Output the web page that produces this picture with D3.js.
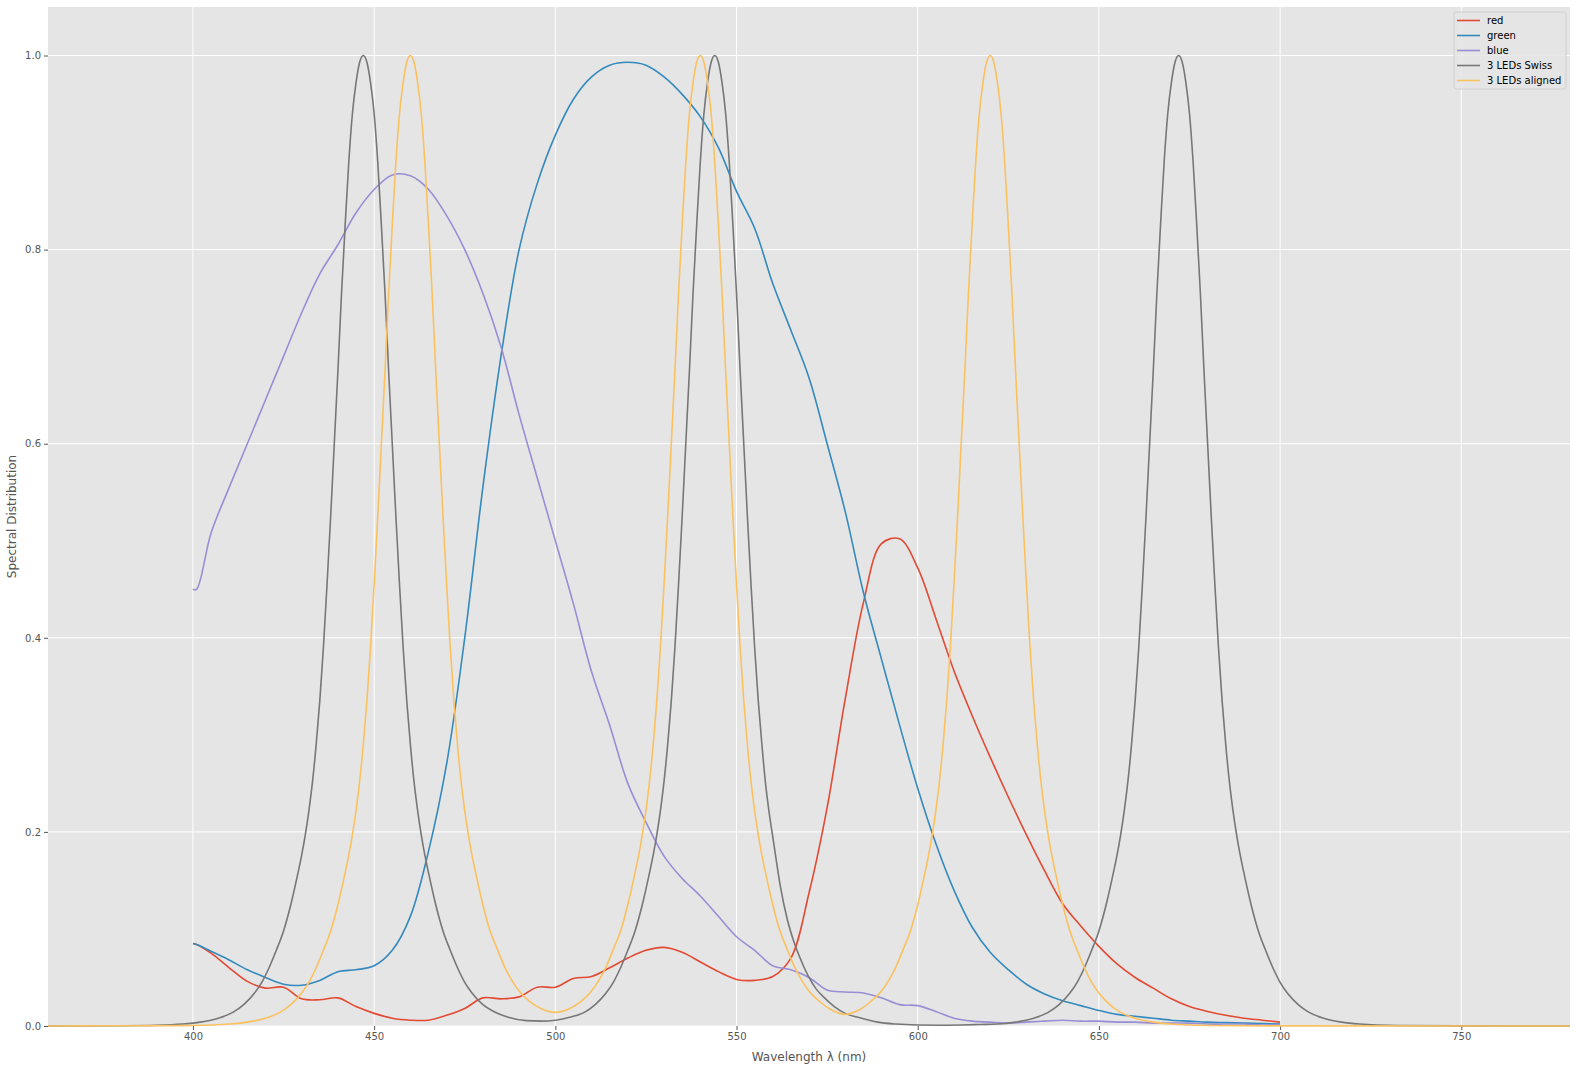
<!DOCTYPE html>
<html>
<head>
<meta charset="utf-8">
<script src="https://cdn.jsdelivr.net/npm/d3@7"></script>
<style>
  html, body { margin: 0; padding: 0; background: #ffffff; }
  svg { display: block; }
  text { font-family: "DejaVu Sans", sans-serif; }
</style>
</head>
<body>
<svg id="chart" width="1576" height="1072"></svg>
<script>
// ---------------- DATA ----------------
const wavelengths = [400,401,405,410,415,420,425,430,435,440,445,450,455,460,465,470,475,480,485,490,495,500,505,510,515,520,525,530,535,540,545,550,555,560,565,570,575,580,585,590,595,600,605,610,615,620,625,630,635,640,645,650,655,660,665,670,675,680,685,690,695,700];

const redValues = [0.085,0.084,0.075,0.06,0.046,0.039,0.04,0.028,0.027,0.029,0.02,0.013,0.008,0.006,0.006,0.011,0.018,0.029,0.028,0.03,0.04,0.04,0.049,0.051,0.06,0.07,0.078,0.081,0.076,0.066,0.056,0.048,0.047,0.051,0.07,0.137,0.225,0.337,0.436,0.497,0.502,0.472,0.42,0.366,0.32,0.277,0.236,0.197,0.16,0.126,0.103,0.082,0.064,0.05,0.039,0.028,0.02,0.015,0.011,0.008,0.006,0.004];

const greenValues = [0.085,0.084,0.077,0.068,0.058,0.05,0.043,0.042,0.047,0.056,0.058,0.062,0.078,0.113,0.18,0.27,0.4,0.555,0.69,0.8,0.868,0.918,0.955,0.978,0.99,0.993,0.99,0.978,0.96,0.937,0.905,0.86,0.822,0.765,0.717,0.668,0.6,0.53,0.447,0.378,0.31,0.245,0.188,0.14,0.102,0.076,0.058,0.043,0.033,0.026,0.021,0.016,0.012,0.01,0.008,0.006,0.005,0.004,0.0035,0.003,0.0025,0.002];

const blueValues = [0.45,0.45,0.508,0.555,0.6,0.645,0.69,0.735,0.775,0.805,0.838,0.862,0.877,0.876,0.862,0.835,0.8,0.755,0.7,0.63,0.565,0.5,0.435,0.365,0.31,0.25,0.21,0.175,0.152,0.134,0.113,0.092,0.078,0.062,0.058,0.05,0.037,0.035,0.034,0.029,0.022,0.021,0.015,0.008,0.005,0.004,0.003,0.004,0.005,0.006,0.005,0.005,0.004,0.004,0.003,0.003,0.003,0.002,0.002,0.002,0.001,0.001];

const ledsSwiss = [[360,0],[380,0.0003],[390,0.0008],[397,0.002],[402,0.004],[407,0.008],[411,0.014],[414,0.022],[417,0.034],[419,0.045],[421,0.06],[423,0.078],[425,0.098],[427,0.125],[429,0.158],[430,0.176],[431,0.197],[432,0.222],[433,0.252],[434,0.29],[435,0.335],[436,0.39],[437,0.455],[438,0.525],[439,0.6],[440,0.675],[441,0.755],[442,0.825],[443,0.89],[444,0.94],[445,0.972],[446,0.993],[447,1],[448,0.993],[449,0.972],[450,0.94],[451,0.89],[452,0.825],[453,0.755],[454,0.675],[455,0.6],[456,0.525],[457,0.455],[458,0.39],[459,0.335],[460,0.29],[461,0.252],[462,0.222],[463,0.197],[464,0.176],[465,0.158],[467,0.125],[469,0.098],[471,0.078],[473,0.06],[475,0.045],[477,0.034],[480,0.022],[483,0.015],[487,0.009],[492,0.0055],[496,0.005],[500,0.006],[504,0.009],[508,0.014],[511,0.022],[514,0.034],[516,0.045],[518,0.06],[520,0.078],[522,0.098],[524,0.125],[526,0.158],[527,0.176],[528,0.197],[529,0.222],[530,0.252],[531,0.29],[532,0.335],[533,0.39],[534,0.455],[535,0.525],[536,0.6],[537,0.675],[538,0.755],[539,0.825],[540,0.89],[541,0.94],[542,0.972],[543,0.993],[544,1],[545,0.993],[546,0.972],[547,0.94],[548,0.89],[549,0.825],[550,0.755],[551,0.675],[552,0.6],[553,0.525],[554,0.455],[555,0.39],[556,0.335],[557,0.29],[558,0.25],[559,0.22],[560,0.195],[561,0.17],[562,0.146],[564,0.11],[566,0.085],[568,0.066],[570,0.05],[572,0.038],[574,0.03],[577,0.02],[580,0.013],[584,0.0085],[589,0.004],[594,0.002],[600,0.001],[606,0.0008],[612,0.001],[617,0.0015],[622,0.002],[627,0.004],[632,0.008],[636,0.014],[639,0.022],[642,0.034],[644,0.045],[646,0.06],[648,0.078],[650,0.098],[652,0.125],[654,0.158],[655,0.176],[656,0.197],[657,0.222],[658,0.252],[659,0.29],[660,0.335],[661,0.39],[662,0.455],[663,0.525],[664,0.6],[665,0.675],[666,0.755],[667,0.825],[668,0.89],[669,0.94],[670,0.972],[671,0.993],[672,1],[673,0.993],[674,0.972],[675,0.94],[676,0.89],[677,0.825],[678,0.755],[679,0.675],[680,0.6],[681,0.525],[682,0.455],[683,0.39],[684,0.335],[685,0.29],[686,0.252],[687,0.222],[688,0.197],[689,0.176],[690,0.158],[692,0.125],[694,0.098],[696,0.078],[698,0.06],[700,0.045],[702,0.034],[705,0.022],[708,0.014],[712,0.008],[717,0.004],[722,0.002],[732,0.0005],[750,0.0001],[780,0]];

const ledsAligned = [[360,0],[380,0.0002],[400,0.0005],[410,0.002],[415,0.004],[420,0.008],[424,0.014],[427,0.022],[430,0.034],[432,0.045],[434,0.06],[436,0.078],[438,0.098],[440,0.125],[442,0.158],[443,0.176],[444,0.197],[445,0.222],[446,0.252],[447,0.29],[448,0.335],[449,0.39],[450,0.455],[451,0.525],[452,0.6],[453,0.675],[454,0.755],[455,0.825],[456,0.89],[457,0.94],[458,0.972],[459,0.993],[460,1],[461,0.993],[462,0.972],[463,0.94],[464,0.89],[465,0.825],[466,0.755],[467,0.675],[468,0.6],[469,0.525],[470,0.455],[471,0.39],[472,0.335],[473,0.29],[474,0.252],[475,0.222],[476,0.197],[477,0.176],[478,0.158],[480,0.125],[482,0.098],[484,0.079],[486,0.061],[488,0.047],[490,0.036],[493,0.025],[496,0.018],[500,0.014],[504,0.018],[507,0.025],[510,0.036],[512,0.047],[514,0.061],[516,0.079],[518,0.098],[520,0.125],[522,0.158],[523,0.176],[524,0.197],[525,0.222],[526,0.252],[527,0.29],[528,0.335],[529,0.39],[530,0.455],[531,0.525],[532,0.6],[533,0.675],[534,0.755],[535,0.825],[536,0.89],[537,0.94],[538,0.972],[539,0.993],[540,1],[541,0.993],[542,0.972],[543,0.94],[544,0.89],[545,0.825],[546,0.755],[547,0.675],[548,0.6],[549,0.525],[550,0.455],[551,0.39],[552,0.335],[553,0.29],[554,0.252],[555,0.222],[556,0.197],[557,0.176],[558,0.158],[560,0.125],[562,0.098],[564,0.079],[566,0.061],[568,0.047],[570,0.036],[573,0.025],[576,0.017],[580,0.012],[584,0.017],[587,0.025],[590,0.036],[592,0.047],[594,0.061],[596,0.079],[598,0.098],[600,0.125],[602,0.158],[603,0.176],[604,0.197],[605,0.222],[606,0.252],[607,0.29],[608,0.335],[609,0.39],[610,0.455],[611,0.525],[612,0.6],[613,0.675],[614,0.755],[615,0.825],[616,0.89],[617,0.94],[618,0.972],[619,0.993],[620,1],[621,0.993],[622,0.972],[623,0.94],[624,0.89],[625,0.825],[626,0.755],[627,0.675],[628,0.6],[629,0.525],[630,0.455],[631,0.39],[632,0.335],[633,0.29],[634,0.252],[635,0.222],[636,0.197],[637,0.176],[638,0.158],[640,0.125],[642,0.098],[644,0.078],[646,0.06],[648,0.045],[650,0.034],[653,0.022],[656,0.014],[660,0.008],[665,0.004],[670,0.002],[680,0.0005],[700,0.0001],[780,0]];

const xTicks = [400, 450, 500, 550, 600, 650, 700, 750];
const yTicks = [0.0, 0.2, 0.4, 0.6, 0.8, 1.0];
const seriesNames = ["red", "green", "blue", "3 LEDs Swiss", "3 LEDs aligned"];
const seriesColors = ["#E24A33", "#348ABD", "#988ED5", "#777777", "#FBC15E"];
const xDomain = [360, 780];
const yDomain = [0, 1.05];

// ---------------- LAYOUT ----------------
const svg = d3.select("#chart");
const margin = { left: 48, top: 7, right: 6, bottom: 46 };
const W = 1576, H = 1072;
const x = d3.scaleLinear().domain(xDomain).range([margin.left, W - margin.right]);
const y = d3.scaleLinear().domain(yDomain).range([H - margin.bottom, margin.top]);

const plotW = W - margin.right - margin.left;
const plotH = H - margin.bottom - margin.top;

svg.append("rect")
  .attr("x", margin.left).attr("y", margin.top)
  .attr("width", plotW).attr("height", plotH)
  .attr("fill", "#E5E5E5");

svg.append("defs").append("clipPath").attr("id", "clip")
  .append("rect")
  .attr("x", margin.left).attr("y", margin.top - 1)
  .attr("width", plotW).attr("height", plotH + 2);

// grid
const grid = svg.append("g");
grid.selectAll(".vg").data(xTicks).enter().append("line")
  .attr("x1", d => x(d)).attr("x2", d => x(d))
  .attr("y1", margin.top).attr("y2", H - margin.bottom)
  .attr("stroke", "#ffffff").attr("stroke-width", 1);
grid.selectAll(".hg").data(yTicks).enter().append("line")
  .attr("y1", d => y(d)).attr("y2", d => y(d))
  .attr("x1", margin.left).attr("x2", W - margin.right)
  .attr("stroke", "#ffffff").attr("stroke-width", 1);

// axes
const xAxis = d3.axisBottom(x).tickValues(xTicks).tickSize(4).tickPadding(3).tickFormat(d3.format("d"));
const yAxis = d3.axisLeft(y).tickValues(yTicks).tickSize(4).tickPadding(3).tickFormat(d3.format(".1f"));

const gx = svg.append("g").attr("transform", `translate(0,${H - margin.bottom})`).call(xAxis);
const gy = svg.append("g").attr("transform", `translate(${margin.left},0)`).call(yAxis);
[gx, gy].forEach(g => {
  g.select(".domain").remove();
  g.selectAll(".tick line").attr("stroke", "#555555");
  g.selectAll(".tick text").attr("fill", "#555555").style("font-size", "10px")
    .style("font-family", "'DejaVu Sans', sans-serif");
});

// axis labels
svg.append("text")
  .attr("x", margin.left + plotW / 2).attr("y", 1061)
  .attr("text-anchor", "middle").attr("fill", "#555555")
  .style("font-size", "12px")
  .text("Wavelength λ (nm)");

svg.append("text")
  .attr("transform", `translate(16,${margin.top + plotH / 2}) rotate(-90)`)
  .attr("text-anchor", "middle").attr("fill", "#555555")
  .style("font-size", "12px")
  .text("Spectral Distribution");

// lines
const smoothLine = d3.line().x(d => x(d[0])).y(d => y(d[1])).curve(d3.curveCatmullRom.alpha(0.5));
const ledLine = d3.line().x(d => x(d[0])).y(d => y(d[1])).curve(d3.curveMonotoneX);
const seriesData = [
  wavelengths.map((w, i) => [w, redValues[i]]),
  wavelengths.map((w, i) => [w, greenValues[i]]),
  wavelengths.map((w, i) => [w, blueValues[i]]),
  ledsSwiss,
  ledsAligned
];

const lines = svg.append("g").attr("clip-path", "url(#clip)");
seriesData.forEach((data, i) => {
  lines.append("path")
    .datum(data)
    .attr("d", i < 3 ? smoothLine : ledLine)
    .attr("fill", "none")
    .attr("stroke", seriesColors[i])
    .attr("stroke-width", 1.6)
    .attr("stroke-linejoin", "round");
});

// legend
const lg = svg.append("g");
lg.append("rect")
  .attr("x", 1454).attr("y", 12).attr("width", 112).attr("height", 77)
  .attr("rx", 2).attr("ry", 2)
  .attr("fill", "#E5E5E5").attr("fill-opacity", 0.8)
  .attr("stroke", "#D0D0D0").attr("stroke-width", 1);
seriesNames.forEach((name, i) => {
  const cy = 20.5 + i * 15;
  lg.append("line")
    .attr("x1", 1457).attr("x2", 1480).attr("y1", cy).attr("y2", cy)
    .attr("stroke", seriesColors[i]).attr("stroke-width", 1.6);
  lg.append("text")
    .attr("x", 1487).attr("y", cy + 3.6)
    .attr("fill", "#000000").style("font-size", "10px")
    .text(name);
});
</script>
</body>
</html>
